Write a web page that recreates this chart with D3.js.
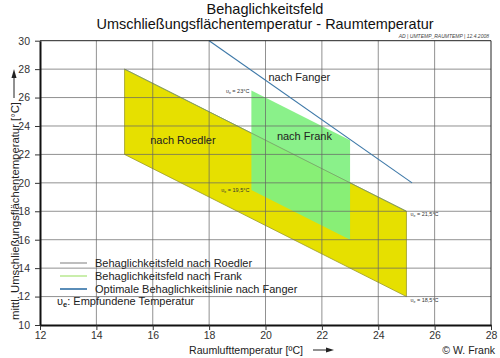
<!DOCTYPE html>
<html><head><meta charset="utf-8">
<script src="https://cdn.jsdelivr.net/npm/d3@7"></script>
<style>body{margin:0;background:#fff}svg{display:block;font-family:"Liberation Sans",Arial,sans-serif}</style>
</head><body><svg id="c" width="500" height="358"></svg>
<script>
const xTicks = [12,14,16,18,20,22,24,26,28];
const yTicks = [10,12,14,16,18,20,22,24,26,28,30];
const roedler = [[15,28],[25,18],[25,12],[15,22]];
const frank = [[19.5,26.5],[23,23],[23,16],[19.5,19.5]];
const fanger = [[18,30],[25.2,20]];
const marks = [
  {t:"= 23°C", x:19.5, y:26.5, side:"left"},
  {t:"= 19,5°C", x:19.5, y:19.5, side:"left"},
  {t:"= 21,5°C", x:25, y:18, side:"right"},
  {t:"= 18,5°C", x:25, y:12, side:"right"}
];
const regionLabels = [
  {t:"nach Roedler", x:17.07, y:22.94},
  {t:"nach Frank", x:21.38, y:23.24},
  {t:"nach Fanger", x:21.2, y:27.35}
];
const legendItems = [
  {t:"Behaglichkeitsfeld nach Roedler", c:"#a8a8a8"},
  {t:"Behaglichkeitsfeld nach Frank", c:"#b8e890"},
  {t:"Optimale Behaglichkeitslinie nach Fanger", c:"#5a8db8"}
];

const svg = d3.select("#c");
const x = d3.scaleLinear().domain([12,28]).range([40,491]);
const y = d3.scaleLinear().domain([10,30]).range([325,40.7]);
const line = d3.line().x(d=>x(d[0])).y(d=>y(d[1]));

// fills
svg.append("path").attr("d", line(roedler)+"Z").attr("fill","#e6e000").attr("stroke","#9a9a2a").attr("stroke-width",0.8);
svg.append("path").attr("d", line(frank)+"Z").attr("fill","#80f080").attr("fill-opacity",0.92);
svg.append("path").attr("d", line([roedler[0],roedler[1]])).attr("stroke","#7a9a6a").attr("stroke-width",0.8).attr("fill","none");

// grid
const g = svg.append("g");
g.selectAll(".vx").data(xTicks.slice(1,-1)).join("line")
  .attr("x1",d=>x(d)).attr("x2",d=>x(d)).attr("y1",y(30)).attr("y2",y(10))
  .attr("stroke","#666").attr("stroke-width",0.9).attr("stroke-opacity",0.8);
g.selectAll(".hy").data(yTicks.slice(1,-1)).join("line")
  .attr("y1",d=>y(d)).attr("y2",d=>y(d)).attr("x1",x(12)).attr("x2",x(28))
  .attr("stroke","#666").attr("stroke-width",0.9).attr("stroke-opacity",0.8);

// fanger line
svg.append("path").attr("d", line(fanger)).attr("stroke","#3d78a8").attr("stroke-width",1.1).attr("fill","none");

// frame
svg.append("line").attr("x1",x(12)).attr("x2",x(28)).attr("y1",y(30)).attr("y2",y(30)).attr("stroke","#222").attr("stroke-width",1);
svg.append("line").attr("x1",x(28)).attr("x2",x(28)).attr("y1",y(30)).attr("y2",y(10)).attr("stroke","#222").attr("stroke-width",1);

// axes
const ax = svg.append("g").attr("transform",`translate(0,${y(10)})`)
  .call(d3.axisBottom(x).tickValues(xTicks).tickSize(5).tickSizeOuter(0));
const ay = svg.append("g").attr("transform",`translate(${x(12)},0)`)
  .call(d3.axisLeft(y).tickValues(yTicks).tickSize(5).tickSizeOuter(0));
[ax,ay].forEach(a=>{
  a.select(".domain").attr("stroke","#111").attr("stroke-width",2);
  a.selectAll(".tick line").attr("stroke","#333");
  a.selectAll(".tick text").attr("font-family","Liberation Sans, Arial, sans-serif").attr("font-size",10.5).attr("fill","#333");
});
ax.selectAll(".tick text").attr("y",7).attr("dy","0.71em");
ay.selectAll(".tick text").attr("dx","-2");

// region labels
svg.selectAll(".rl").data(regionLabels).join("text")
  .attr("x",d=>x(d.x)).attr("y",d=>y(d.y)).attr("text-anchor","middle").attr("dominant-baseline","middle")
  .attr("font-size",11).attr("fill","#222").text(d=>d.t);

// small marks
marks.forEach(m=>{
  const t = svg.append("text").attr("font-size",5.5).attr("fill","#333");
  if(m.side==="left"){
    t.attr("x",x(m.x)-2).attr("y",y(m.y)+2.5).attr("text-anchor","end");
  } else {
    t.attr("x",x(m.x)+4).attr("y",y(m.y)+5).attr("text-anchor","start");
  }
  t.append("tspan").text("υ");
  t.append("tspan").attr("font-size",3.5).attr("dy",1).text("e");
  t.append("tspan").attr("dy",-1).text(" "+m.t);
});

// titles
svg.append("text").attr("x",265).attr("y",14).attr("text-anchor","middle").attr("font-size",14.5).attr("fill","#111").text("Behaglichkeitsfeld");
svg.append("text").attr("x",265).attr("y",29).attr("text-anchor","middle").attr("font-size",14.5).attr("fill","#111")
  .attr("textLength",337).attr("lengthAdjust","spacingAndGlyphs").text("Umschließungsflächentemperatur - Raumtemperatur");
svg.append("text").attr("x",489).attr("y",37.5).attr("text-anchor","end").attr("font-size",5).attr("font-style","italic").attr("fill","#444").text("AD | UMTEMP_RAUMTEMP | 12.4.2008");

// axis titles
svg.append("text").attr("x",246).attr("y",354).attr("text-anchor","middle").attr("font-size",11.5).attr("fill","#222")
  .attr("textLength",114).attr("lengthAdjust","spacingAndGlyphs").text("Raumlufttemperatur [ºC]");
svg.append("line").attr("x1",313).attr("x2",331).attr("y1",350).attr("y2",350).attr("stroke","#222").attr("stroke-width",1);
svg.append("path").attr("d","M326,347.5 L334,350 L326,352.5 Z").attr("fill","#222");
svg.append("text").attr("x",495).attr("y",354).attr("text-anchor","end").attr("font-size",10.5).attr("fill","#222").text("© W. Frank");

svg.append("text").attr("transform","translate(19,211) rotate(-90)").attr("text-anchor","middle").attr("font-size",11.5).attr("fill","#222")
  .attr("textLength",218).attr("lengthAdjust","spacingAndGlyphs")
  .text("mittl. Umschließungsflächentemperatur [°C]");
svg.append("line").attr("x1",14).attr("x2",14).attr("y1",98).attr("y2",74).attr("stroke","#222").attr("stroke-width",1);
svg.append("path").attr("d","M11.5,78 L14,69 L16.5,78 Z").attr("fill","#222");

// legend
const lg = svg.append("g");
legendItems.forEach((d,i)=>{
  const yy = 263 + i*13;
  lg.append("line").attr("x1",60).attr("x2",87).attr("y1",yy).attr("y2",yy).attr("stroke",d.c).attr("stroke-width",i===2?2:1.5);
  lg.append("text").attr("x",95).attr("y",yy+4).attr("font-size",11).attr("fill","#222").text(d.t);
});
const lt = lg.append("text").attr("x",57).attr("y",305).attr("font-size",11).attr("fill","#222");
lt.append("tspan").text("υ");
lt.append("tspan").attr("font-size",7.5).attr("font-weight","bold").attr("dy",2).text("e");
lt.append("tspan").attr("dy",-2).text(": Empfundene Temperatur");
</script></body></html>
